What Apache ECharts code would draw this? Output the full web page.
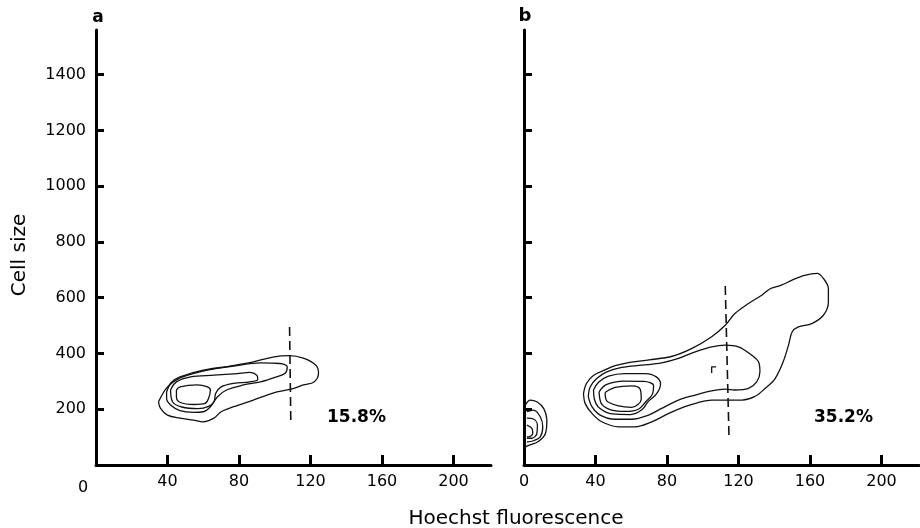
<!DOCTYPE html>
<html>
<head>
<meta charset="utf-8">
<script src="https://cdn.jsdelivr.net/npm/echarts@6.0.0/dist/echarts.min.js"></script>
<style>
  html, body { margin: 0; padding: 0; background: #fff; }
  #main { width: 920px; height: 528px; }
</style>
</head>
<body>
<div id="main"></div>
<script>
// tick values
var xTicks = [40, 80, 120, 160, 200];
var xLabelsB = [0, 40, 80, 120, 160, 200];
var yTicks = [200, 400, 600, 800, 1000, 1200, 1400];

// panel a contours [Hoechst, cell size]
var aOuter = [[35,227],[40,280],[47,312],[58,334],[73,352],[88,370],[99,387],[108,392],[116,383],[123,358],[124.5,330],[122,298],[116,287],[109,272],[99,258],[88,233],[77,209],[70,191],[66,168],[60,155],[54.5,161],[47,168],[40,179],[36,204],[35,227]];
var aRing2 = [[39.5,262],[42,295],[47,316],[60,340],[77,355],[92,366],[103,364],[107,352],[106,330],[101,316],[92,298],[82.5,287],[73,269],[68,245],[64,209],[60,191],[54.5,189],[47,195],[41.7,215],[39.5,239],[39.5,262]];
var aRing3 = [[41.7,269],[45,298],[53,316],[66,322],[79,328],[86,332],[90,322],[90.5,307],[86,298],[77,293],[70,280],[67,257],[66,227],[63,210],[57,202],[48,208],[43,225],[41.7,269]];
var aCore = [[45,269],[47,280],[56.6,287],[62,281],[64,269],[63,239],[61,221],[54.7,217],[47,225],[45,245],[45,269]];
var aCut = [[108.3,495],[109,153]];

// panel b contours
var bOuter = [[33.3,257],[35,293],[39,322],[45,340],[51,356],[60,369],[70,377],[83,390],[94,418],[105,460],[112.6,501],[118,543],[125.6,579],[133,609],[138,633],[144,645],[150,663],[157,680],[164,687],[167.5,669],[170.3,633],[170.3,585],[167.5,537],[161,507],[153.5,495],[150,477],[148,430],[145,370],[140.5,310],[135,275],[129,245],[122,233],[114,233],[105,233],[97,223],[90,209],[81,185],[71.5,155],[62,137],[53,137],[43.5,155],[38,185],[34.2,221],[33.3,257]];
var bBalloon = [[36,245],[37,280],[40.7,310],[46.3,334],[54.7,350],[66,358],[77,366],[86.4,382],[95.8,406],[105,424],[112.6,430],[120,424],[127.4,394],[131.2,370],[132,334],[130.2,298],[125.6,275],[118,269],[112.6,272],[105,266],[95.8,251],[86.4,233],[77,203],[69.7,179],[60.3,164],[51,164],[42.6,179],[38,209],[36,245]];
var bLobe3 = [[38.9,269],[41.7,297],[47.3,319],[56.6,328],[67.8,328],[74,316],[76.4,290],[74,254],[69.7,229],[65.7,197],[59.6,181],[49.5,183],[42.2,204],[39.4,236],[38.9,269]];
var bLobe4 = [[42,262],[46,288],[56,301],[67,300],[72.5,285],[72,256],[68,226],[64,200],[57,192],[49,197],[43.5,218],[42,262]];
var bCore = [[45.4,260],[51,278],[60.3,284],[65,272],[65.6,236],[60.3,207],[53,212],[46.3,230],[45.4,260]];
var bSmall1 = [[0.7,65],[3.5,72],[8,84],[12,113],[12.8,161],[11,203],[7.2,227],[3.5,233],[0.7,215]];
var bSmall2 = [[1.6,83],[5.3,87],[9.1,101],[10.5,137],[9.1,173],[5.3,197],[1.6,191]];
var bSmall3 = [[1.6,96],[4.4,96],[7.2,113],[7.5,143],[5.3,165],[1.6,168]];
var bSmall4 = [[1.6,101],[2.5,101],[4.9,113],[4.4,131],[1.6,143]];
var bMark = [[105,330],[105,352],[107.5,352]];
var bCut = [[112.6,642],[114.7,100]];

var percents = ['15.8%', '35.2%'];

var FONT = 'DejaVu Sans';

function contour(data, idx, smooth) {
    return {
        type: 'line', xAxisIndex: idx, yAxisIndex: idx,
        data: data, symbol: 'none', showSymbol: false,
        smooth: smooth === undefined ? 0.35 : smooth,
        lineStyle: {color: '#111', width: 1.3},
        silent: true, animation: false, z: 3
    };
}
function cutLine(data, idx) {
    return {
        type: 'line', xAxisIndex: idx, yAxisIndex: idx,
        data: data, symbol: 'none', showSymbol: false,
        lineStyle: {color: '#111', width: 1.6, type: [9, 5]},
        silent: true, animation: false, z: 4
    };
}
function xAxis(idx, labels) {
    return {
        gridIndex: idx, type: 'value', min: 0, max: 221,
        axisLine: {show: true, onZero: false, lineStyle: {color: '#000', width: 3}},
        axisTick: {show: true, inside: true, length: 10, customValues: xTicks,
            lineStyle: {color: '#000', width: 3}},
        axisLabel: {show: labels.length > 0, customValues: labels, margin: 9,
            fontSize: 16, color: '#000', fontFamily: FONT,
            formatter: function (v) { return String(v); }},
        splitLine: {show: false}
    };
}
function yAxis(idx, showLabels) {
    return {
        gridIndex: idx, type: 'value', min: 0, max: 1560,
        axisLine: {show: true, onZero: false, lineStyle: {color: '#000', width: 3}},
        axisTick: {show: true, inside: true, length: 8, customValues: yTicks,
            lineStyle: {color: '#000', width: 3}},
        axisLabel: {show: showLabels, customValues: yTicks, margin: 10,
            fontSize: 16, color: '#000', fontFamily: FONT,
            formatter: function (v) { return String(v); }},
        splitLine: {show: false}
    };
}

var chart = echarts.init(document.getElementById('main'), null, {renderer: 'canvas'});
chart.setOption({
    backgroundColor: '#fff',
    animation: false,
    grid: [
        {left: 96, top: 30, width: 395, bottom: 63},
        {left: 524, top: 30, width: 395, bottom: 63}
    ],
    xAxis: [xAxis(0, xTicks), xAxis(1, xLabelsB)],
    yAxis: [yAxis(0, true), yAxis(1, false)],
    graphic: [
        {type: 'text', x: 98, y: 18, style: {text: 'a', font: 'bold 17px "DejaVu Sans"', fill: '#000', align: 'center', verticalAlign: 'middle'}},
        {type: 'text', x: 525, y: 16, style: {text: 'b', font: 'bold 18px "DejaVu Sans"', fill: '#000', align: 'center', verticalAlign: 'middle'}},
        {type: 'text', x: 20, y: 255, rotation: Math.PI / 2, style: {text: 'Cell size', font: '20px "DejaVu Sans"', fill: '#000', align: 'center', verticalAlign: 'middle'}},
        {type: 'text', x: 516, y: 519, style: {text: 'Hoechst fluorescence', font: '20px "DejaVu Sans"', fill: '#000', align: 'center', verticalAlign: 'middle'}},
        {type: 'text', x: 83, y: 488, style: {text: '0', font: '16px "DejaVu Sans"', fill: '#000', align: 'center', verticalAlign: 'middle'}},
        {type: 'text', x: 327, y: 418, style: {text: percents[0], font: 'bold 17px "DejaVu Sans"', fill: '#000', align: 'left', verticalAlign: 'middle'}},
        {type: 'text', x: 814, y: 418, style: {text: percents[1], font: 'bold 17px "DejaVu Sans"', fill: '#000', align: 'left', verticalAlign: 'middle'}}
    ],
    series: [
        contour(aOuter, 0), contour(aRing2, 0), contour(aRing3, 0), contour(aCore, 0),
        cutLine(aCut, 0),
        contour(bOuter, 1), contour(bBalloon, 1), contour(bLobe3, 1), contour(bLobe4, 1), contour(bCore, 1),
        contour(bSmall1, 1), contour(bSmall2, 1), contour(bSmall3, 1), contour(bSmall4, 1),
        contour(bMark, 1, false),
        cutLine(bCut, 1)
    ]
});
</script>
</body>
</html>
